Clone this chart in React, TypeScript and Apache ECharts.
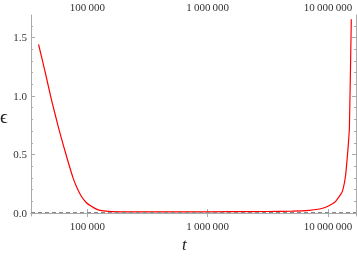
import React, { useEffect, useRef } from "react";
import * as echarts from "echarts";

const T = [
  39300, 44700, 50100, 57700, 63100, 69000, 76000, 83200, 89100, 97700,
  107900, 118900, 130900, 158500, 251000, 631000, 1585000, 3162000, 5012000,
  6950000, 8510000, 9550000, 10720000, 11590000, 12590000, 13180000, 13650000,
  14030000, 14400000, 14750000, 15070000, 15630000,
];
const EPS = [
  1.44, 1.2, 0.975, 0.726, 0.58, 0.442, 0.3, 0.2, 0.143, 0.09,
  0.057, 0.033, 0.02, 0.012, 0.01, 0.01, 0.011, 0.013, 0.016,
  0.022, 0.034, 0.049, 0.075, 0.1, 0.15, 0.185, 0.25,
  0.327, 0.45, 0.58, 0.726, 1.655,
];
const X_TICKS = [100000, 1000000, 10000000];
const Y_TICKS = [0, 0.5, 1, 1.5];
const Y_MINOR = [0, 0.1, 0.2, 0.3, 0.4, 0.5, 0.6, 0.7, 0.8, 0.9, 1.0, 1.1, 1.2, 1.3, 1.4, 1.5, 1.6];
const REF_LEVEL = 0.01;
const X_MIN = 34000;
const X_MAX = 17100000;
const Y_MIN = -0.0256;
const Y_MAX = 1.692;

const FRAME = "#aaaaaa";
const TEXT = "#333333";
const FONT = "'Liberation Serif', 'DejaVu Serif', serif";

const fmtX = (v: number) =>
  Math.round(v).toString().replace(/\B(?=(\d{3})+(?!\d))/g, "\u2009");

export default function App() {
  const ref = useRef<HTMLDivElement>(null);
  useEffect(() => {
    if (!ref.current) return;
    const chart = echarts.init(ref.current, null, { renderer: "svg" });
    const xBase = (position: "top" | "bottom") => ({
      type: "log" as const,
      position,
      min: X_MIN,
      max: X_MAX,
      logBase: 10,
      axisLine: { show: true, lineStyle: { color: FRAME, width: 1 } },
      axisTick: {
        show: true,
        inside: true,
        length: 4,
        customValues: X_TICKS,
        lineStyle: { color: FRAME },
      },
      axisLabel: {
        show: true,
        customValues: X_TICKS,
        formatter: (v: number) => fmtX(v),
        color: TEXT,
        fontFamily: FONT,
        fontSize: 11,
        margin: position === "top" ? 3 : 4,
      },
      splitLine: { show: false },
      minorTick: { show: false },
    });
    const yBase = (
      position: "left" | "right",
      ticks: number[],
      len: number,
      labels: boolean,
      line: boolean
    ) => ({
      type: "value" as const,
      position,
      min: Y_MIN,
      max: Y_MAX,
      axisLine: { show: line, lineStyle: { color: FRAME, width: 1 } },
      axisTick: {
        show: true,
        inside: true,
        length: len,
        customValues: ticks,
        lineStyle: { color: FRAME },
      },
      axisLabel: labels
        ? {
            show: true,
            customValues: Y_TICKS,
            formatter: (v: number) => v.toFixed(1),
            color: TEXT,
            fontFamily: FONT,
            fontSize: 11,
            margin: 4,
          }
        : { show: false },
      splitLine: { show: false },
    });
    chart.setOption({
      animation: false,
      grid: { left: 31, right: 1, top: 15, bottom: 42 },
      xAxis: [xBase("bottom"), xBase("top")],
      yAxis: [
        yBase("left", Y_TICKS, 4, true, true),
        yBase("left", Y_MINOR, 2, false, false),
        yBase("right", Y_TICKS, 4, false, true),
        yBase("right", Y_MINOR, 2, false, false),
      ],
      series: [
        {
          type: "line",
          xAxisIndex: 0,
          yAxisIndex: 0,
          data: T.map((t, i) => [t, EPS[i]]),
          showSymbol: false,
          symbol: "none",
          smooth: 0.2,
          lineStyle: { color: "#ff0000", width: 1.2 },
          markLine: {
            silent: true,
            symbol: "none",
            label: { show: false },
            lineStyle: { color: "#888888", type: [4, 3], width: 1 },
            data: [{ yAxis: REF_LEVEL }],
          },
          z: 3,
        },
      ],
      graphic: [
        {
          type: "text",
          left: 0,
          top: 107,
          style: {
            text: "\u03f5",
            fontFamily: FONT,
            fontSize: 19,
            fill: "#222",
          },
        },
        {
          type: "text",
          left: 182,
          top: 236,
          style: {
            text: "t",
            fontFamily: FONT,
            fontStyle: "italic",
            fontSize: 17,
            fill: "#222",
          },
        },
      ],
    });
    return () => chart.dispose();
  }, []);
  return <div ref={ref} style={{ width: 357, height: 258, position: "fixed", left: 0, top: 0 }} />;
}
